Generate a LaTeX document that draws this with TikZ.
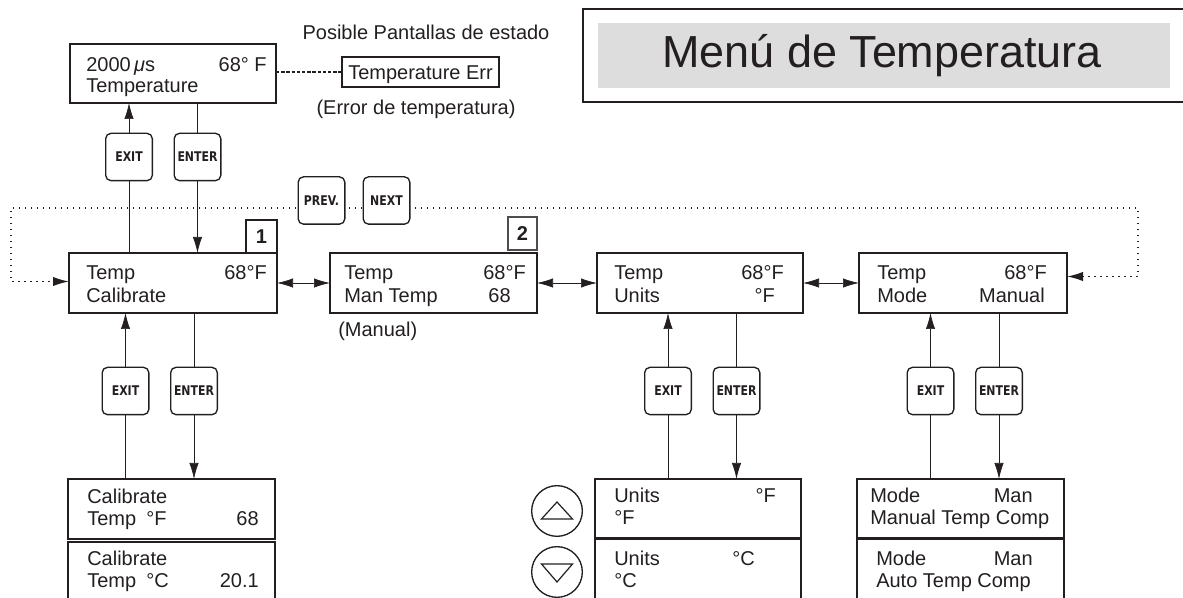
\documentclass[tikz,border=0pt]{standalone}
\usepackage{fontspec}
\setmainfont{Liberation Sans}
\newfontfamily\keyfont{DejaVu Sans}[FakeStretch=0.82,BoldFont={DejaVu Sans Bold}]
\usetikzlibrary{arrows.meta,fit,calc}
\definecolor{ink}{HTML}{231F20}
\definecolor{panel}{HTML}{DDDDDD}
\tikzset{
  lcd/.style={draw=ink, line width=1.1pt, inner sep=0pt, outer sep=0pt},
  key/.style={draw=ink, line width=1pt, rounded corners=4pt, fill=white, minimum width=35pt, minimum height=35.5pt, inner sep=0pt, outer sep=0pt, font=\keyfont\bfseries\fontsize{10}{11}\selectfont, text=ink},
  lbl/.style={font=\fontsize{15}{17}\selectfont, text=ink, inner sep=0pt},
  numlbl/.style={font=\fontsize{15}{17}\selectfont\bfseries, text=ink},
  conn/.style={draw=ink, line width=0.55pt},
  tipend/.style={-{Latex[length=12pt,width=7pt]}},
  tipboth/.style={{Latex[length=12pt,width=7pt]}-{Latex[length=12pt,width=7pt]}},
  dotline/.style={draw=ink, line width=1.1pt, dash pattern=on 1.1pt off 3.4pt},
}
\begin{document}
\begin{tikzpicture}[x=0.75pt,y=-0.75pt]
\useasboundingbox (0,0) rectangle (1183,598);
\clip (0,0) rectangle (1183,598);

% title
\node[draw=ink, line width=1.3pt, inner sep=0pt, fit={(583,9)(1195,102)}] (frame) {};
\node[fill=panel, inner sep=0pt, fit={(598,23)(1170,88)}] (panel) {};
\node[font=\fontsize{33.7}{36}\selectfont, text=ink, inner sep=0pt] (title) at (882,56) {Menú de Temperatura};

% status screen
\node[lcd, fit={(70,44)(276,103)}] (top) {};
\node[lbl, anchor=base west] (topa) at (86,72) {2000\,\textit{μ}s};
\node[lbl, anchor=base east] (topb) at (267,72) {68° F};
\node[lbl, anchor=base west] (topc) at (86,93) {Temperature};
\node[lbl, anchor=base] (poss) at (426,40) {Posible Pantallas de estado};
\node[lcd, line width=0.9pt, fit={(342,57)(499,87)}] (err) {};
\node[lbl, anchor=base] (errt) at (420.5,80) {Temperature Err};
\node[lbl] (errs) at (416,109) {(Error de temperatura)};
\draw[ink, line width=0.9pt, dash pattern=on 2.6pt off 1.3pt] (top.east |- err.west) -- (err.west);

% main row
\node[lcd, fit={(69,253)(277,313)}] (b1) {};
\node[lcd, fit={(330,253)(537,313)}] (b2) {};
\node[lcd, fit={(597,253)(803,313)}] (b3) {};
\node[lcd, fit={(859,253)(1067,313)}] (b4) {};
\node[lcd, line width=0.9pt, fit={(246,220)(277,253)}] (n1) {};
\node[numlbl] (n1t) at (n1.center) {1};
\node[lcd, line width=0.9pt, draw=ink!80, fit={(508,217)(537,250)}] (n2) {};
\node[numlbl] (n2t) at (n2.center) {2};

\node[lbl, anchor=base west] (b1a) at (86,280) {Temp};
\node[lbl, anchor=base east] (b1b) at (267,280) {68°F};
\node[lbl, anchor=base west] (b1c) at (86,303) {Calibrate};

\node[lbl, anchor=base west] (b2a) at (344,280) {Temp};
\node[lbl, anchor=base east] (b2b) at (526,280) {68°F};
\node[lbl, anchor=base west] (b2c) at (344,303) {Man Temp};
\node[lbl, anchor=base east] (b2d) at (511,303) {68};
\node[lbl, anchor=base west] (b2e) at (338,337) {(Manual)};

\node[lbl, anchor=base west] (b3a) at (614,280) {Temp};
\node[lbl, anchor=base east] (b3b) at (784,280) {68°F};
\node[lbl, anchor=base west] (b3c) at (614,303) {Units};
\node[lbl, anchor=base east] (b3d) at (775,303) {°F};

\node[lbl, anchor=base west] (b4a) at (877,280) {Temp};
\node[lbl, anchor=base east] (b4b) at (1047,280) {68°F};
\node[lbl, anchor=base west] (b4c) at (877,303) {Mode};
\node[lbl, anchor=base east] (b4d) at (1045,303) {Manual};

\draw[conn, tipboth] (b1.east) -- (b2.west);
\draw[conn, tipboth] (b2.east) -- (b3.west);
\draw[conn, tipboth] (b3.east) -- (b4.west);

% dotted loop
\coordinate (dr) at (1138,208);
\coordinate (dl) at (11,208);
\draw[dotline, tipboth] ($(b4.east)+(0,-6.5)$) -| (dr) -- (dl) |- ($(b1.west)+(0,-1.5)$);
\node[key] (prev) at (321.5,200.5) {PREV.};
\node[key] (next) at (386.5,200.5) {NEXT};

% sub screens
\node[lcd, fit={(68,479)(275,539)}] (c1) {};
\node[lcd, fit={(68,542)(275,606)}] (c2) {};
\node[lbl, anchor=base west] (c1a) at (87,504) {Calibrate};
\node[lbl, anchor=base west] (c1b) at (87,526) {Temp};
\node[lbl, anchor=base west] (c1c) at (146,526) {°F};
\node[lbl, anchor=base east] (c1d) at (259,526) {68};
\node[lbl, anchor=base west] (c2a) at (87,566) {Calibrate};
\node[lbl, anchor=base west] (c2b) at (87,588) {Temp};
\node[lbl, anchor=base west] (c2c) at (146,588) {°C};
\node[lbl, anchor=base east] (c2d) at (259,588) {20.1};

\node[lcd, fit={(595,479)(801,538)}] (u1) {};
\node[lcd, fit={(595,539.5)(801,606)}] (u2) {};
\node[lbl, anchor=base west] (u1a) at (614,503) {Units};
\node[lbl, anchor=base east] (u1b) at (776,503) {°F};
\node[lbl, anchor=base west] (u1c) at (614,525) {°F};
\node[lbl, anchor=base west] (u2a) at (614,566) {Units};
\node[lbl, anchor=base east] (u2b) at (755,566) {°C};
\node[lbl, anchor=base west] (u2c) at (614,588) {°C};

\node[lcd, fit={(857,479)(1064,538)}] (m1) {};
\node[lcd, fit={(857,539.5)(1064,606)}] (m2) {};
\node[lbl, anchor=base west] (m1a) at (870,503) {Mode};
\node[lbl, anchor=base east] (m1b) at (1033,503) {Man};
\node[lbl, anchor=base west] (m1c) at (870,525) {Manual Temp Comp};
\node[lbl, anchor=base west] (m2a) at (876,566) {Mode};
\node[lbl, anchor=base east] (m2b) at (1033,566) {Man};
\node[lbl, anchor=base west] (m2c) at (876,588) {Auto Temp Comp};

% arrow keys
\node[draw=ink, line width=1pt, circle, minimum size=38pt, inner sep=0pt] (up) at (557,511) {};
\node[draw=ink, line width=1pt, circle, minimum size=38pt, inner sep=0pt] (dn) at (557,572) {};
\draw[ink, line width=0.9pt] (up.center) +(-15.5,8) -- +(15.5,8) -- +(0,-9) -- cycle;
\draw[ink, line width=0.9pt] (dn.center) +(-15.5,-8) -- +(15.5,-8) -- +(0,10) -- cycle;

% keys
\node[key] (eu) at (129,157) {EXIT};
\node[key] (nu) at (197.5,157) {ENTER};
\node[key] (el) at (125.5,391) {EXIT};
\node[key] (nl) at (194,391) {ENTER};
\node[key] (e3) at (668,391) {EXIT};
\node[key] (n3) at (736.5,391) {ENTER};
\node[key] (e4) at (930.5,391) {EXIT};
\node[key] (n4) at (999,391) {ENTER};

\draw[conn] (b1.north -| eu) -- (eu.south);
\draw[conn, tipend] (eu.north) -- (top.south -| eu);
\draw[conn] (top.south -| nu) -- (nu.north);
\draw[conn, tipend] (nu.south) -- (b1.north -| nu);

\draw[conn] (c1.north -| el) -- (el.south);
\draw[conn, tipend] (el.north) -- (b1.south -| el);
\draw[conn] (b1.south -| nl) -- (nl.north);
\draw[conn, tipend] (nl.south) -- (c1.north -| nl);

\draw[conn] (u1.north -| e3) -- (e3.south);
\draw[conn, tipend] (e3.north) -- (b3.south -| e3);
\draw[conn] (b3.south -| n3) -- (n3.north);
\draw[conn, tipend] (n3.south) -- (u1.north -| n3);

\draw[conn] (m1.north -| e4) -- (e4.south);
\draw[conn, tipend] (e4.north) -- (b4.south -| e4);
\draw[conn] (b4.south -| n4) -- (n4.north);
\draw[conn, tipend] (n4.south) -- (m1.north -| n4);
\end{tikzpicture}
\end{document}
